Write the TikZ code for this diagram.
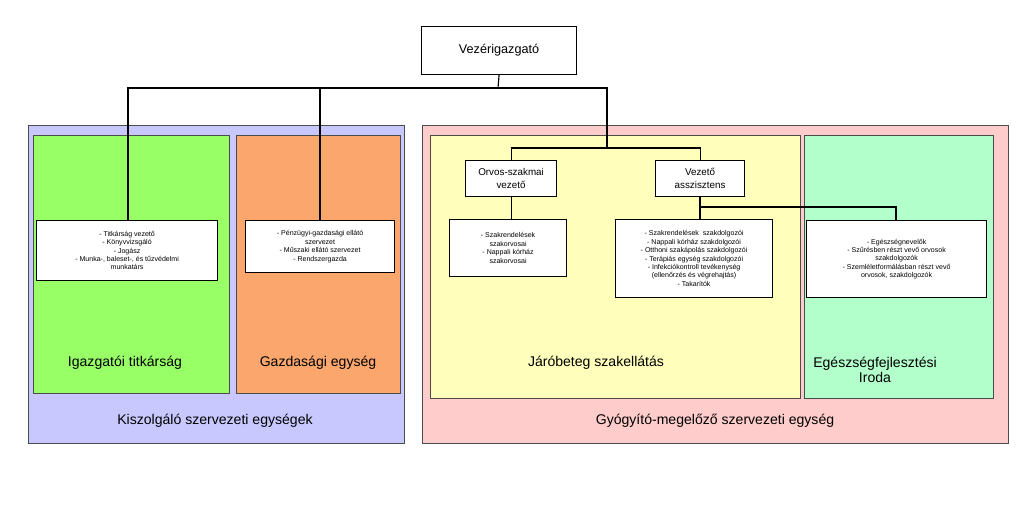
\documentclass[tikz,border=0pt]{standalone}
\usepackage{fontspec}
\setmainfont{Liberation Sans}
\begin{document}
\begin{tikzpicture}
[
 x=0.025cm, y=-0.025cm,
 align=center,
 inner sep=0pt,
 unit/.style={draw=black!70,rectangle,anchor=north west},
 txtbox/.style={draw=black,thick,fill=white,rectangle,anchor=north west,font=\fontsize{5}{6}\selectfont},
 head/.style={draw=black,thick,fill=white,rectangle,anchor=north west,font=\fontsize{7}{9}\selectfont},
 label/.style={font=\fontsize{10}{11}\selectfont}
]
\useasboundingbox (0,0) rectangle (1023,526);
% outer units
\node (kiszolgalo) [unit,fill={rgb,255:red,200;green,200;blue,255},minimum width=376\pgflinewidth/\pgflinewidth*0.025cm,minimum height=318*0.025cm] at (28,125) {};
\node (gyogyito) [unit,fill={rgb,255:red,255;green,204;blue,204},minimum width=586*0.025cm,minimum height=318*0.025cm] at (422,125) {};
\node (titkarsag) [unit,fill={rgb,255:red,153;green,255;blue,102},minimum width=196*0.025cm,minimum height=258*0.025cm] at (33,135) {};
\node (gazdasagi) [unit,fill={rgb,255:red,250;green,166;blue,108},minimum width=164*0.025cm,minimum height=258*0.025cm] at (236,135) {};
\node (jarobeteg) [unit,fill={rgb,255:red,255;green,255;blue,187},minimum width=370*0.025cm,minimum height=263*0.025cm] at (430,135) {};
\node (iroda) [unit,fill={rgb,255:red,179;green,255;blue,204},minimum width=189*0.025cm,minimum height=263*0.025cm] at (804,135) {};
\node [label] at (215,421) {Kiszolgáló szervezeti egységek};
\node [label] at (715,421) {Gyógyító-megelőző szervezeti egység};
\node [label] at (125,363) {Igazgatói titkárság};
\node [label] at (318,363) {Gazdasági egység};
\node [label] at (596,363) {Járóbeteg szakellátás};
\node [label] at (875,370) {Egészségfejlesztési\\Iroda};

% heads
\node (vezer) [head,font=\fontsize{9}{11}\selectfont,minimum width=155*0.025cm,minimum height=48*0.025cm] at (421,26) {Vezérigazgató};
\node (orvos) [head,minimum width=91*0.025cm,minimum height=36*0.025cm] at (465,160) {Orvos-szakmai\\vezető};
\node (asszisztens) [head,minimum width=89*0.025cm,minimum height=36*0.025cm] at (655,160) {Vezető\\asszisztens};

% staff boxes
\node (titk-list) [txtbox,minimum width=181*0.025cm,minimum height=60*0.025cm] at (36,220) {- Titkárság vezető\\- Könyvvizsgáló\\- Jogász\\- Munka-, baleset-, és tűzvédelmi\\munkatárs};
\node (gazd-list) [txtbox,minimum width=149*0.025cm,minimum height=52*0.025cm] at (245,220) {- Pénzügyi-gazdasági ellátó\\szervezet\\- Műszaki ellátó szervezet\\- Rendszergazda};
\node (orvos-list) [txtbox,minimum width=117*0.025cm,minimum height=57*0.025cm] at (449,219) {- Szakrendelések\\szakorvosai\\- Nappali kórház\\szakorvosai};
\node (assz-list) [txtbox,minimum width=157*0.025cm,minimum height=78*0.025cm] at (615,219) {- Szakrendelések \ szakdolgozói\\- Nappali kórház szakdolgozói\\- Otthoni szakápolás szakdolgozói\\- Terápiás egység szakdolgozói\\- Infekciókontroll tevékenység\\(ellenőrzés és végrehajtás)\\- Takarítók};
\node (iroda-list) [txtbox,minimum width=180*0.025cm,minimum height=77*0.025cm] at (806,220) {- Egészségnevelők\\- Szűrésben részt vevő orvosok\\szakdolgozók\\- Szemléletformálásban részt vevő\\orvosok, szakdolgozók};

% connectors
\coordinate (bus) at (498,88);
\draw [thick] (vezer.south) -- (bus);
\draw [thick] (titk-list.north -| 128,0) |- (bus) -| (607,148);
\draw [thick] (gazd-list.north -| 320,0) -- (320,88);
\draw [thick] (orvos.north) |- (607,148) -| (asszisztens.north);
\draw [thick] (orvos.south) -- (orvos-list.north -| orvos.south);
\draw [very thick] (asszisztens.south) -- (assz-list.north -| asszisztens.south);
\draw [very thick] (asszisztens.south |- 0,207) -| (iroda-list.north -| 896,0);
\end{tikzpicture}
\end{document}
